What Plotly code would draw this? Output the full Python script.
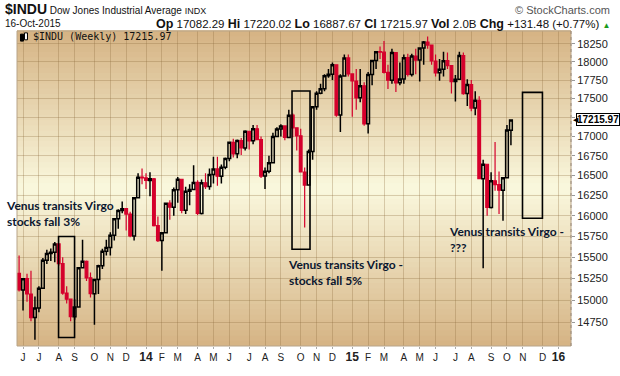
import plotly.graph_objects as go
import pandas as pd
import math

# ---------------- data (weekly $INDU, week starting Monday) ----------------
first_week = "2013-05-27"
opens = [
    15310, 15116, 15248, 15070, 14800, 14910, 15136, 15464, 15544, 15559, 15659, 15425, 15081, 15010, 14810, 14922,
    15376, 15452, 15258, 15073, 15237, 15399, 15570, 15616, 15762, 15962, 16064, 16086, 16020, 15755, 16221, 16479,
    16470, 16437, 16459, 15879, 15699, 15794, 16154, 16104, 16322, 16453, 16066, 16303, 16323, 16413, 16027, 16409,
    16361, 16513, 16583, 16492, 16606, 16717, 16924, 16776, 16948, 16851, 17068, 16944, 17100, 16960, 16493, 16553,
    16663, 17001, 17098, 17138, 16988, 17280, 17113, 17009, 16544, 16380, 16805, 17391, 17573, 17634, 17810, 17828,
    17958, 17281, 17805, 18053,
    17833, 17737, 17511, 17672, 17165, 17825, 18019, 18140, 18133, 17856, 17749, 18128, 17713, 17763, 18057, 17826,
    18080, 18024, 18191, 18273, 18232, 18011, 17849, 17899, 18015, 17947, 17730, 17760, 18086, 17568, 17690, 17373,
    17477, 16460, 16643, 16102, 16433, 16385, 16315, 16472, 17082,
]
highs = [
    15520, 15255, 15306, 15340, 15040, 15160, 15490, 15590, 15605, 15680, 15660, 15500, 15160, 15015, 15010, 15380,
    15710, 15460, 15320, 15240, 15410, 15600, 15710, 15800, 15970, 16080, 16175, 16090, 16050, 16230, 16530, 16588,
    16530, 16540, 16470, 15990, 15800, 16160, 16190, 16350, 16480, 16460, 16360, 16390, 16630, 16440, 16450, 16530,
    16590, 16740, 16740, 16640, 16730, 16930, 16970, 16960, 16980, 17080, 17070, 17150, 17150, 17000, 16600, 16750,
    17050, 17120, 17160, 17140, 17350, 17300, 17120, 17100, 16600, 16830, 17400, 17600, 17700, 17830, 17900, 17990,
    17960, 17830, 18100, 18100,
    17840, 17900, 17900, 17720, 17860, 18020, 18150, 18210, 18290, 17960, 18180, 18130, 17990, 18100, 18110, 18110,
    18180, 18200, 18290, 18350, 18240, 18100, 18040, 18140, 18130, 17950, 17820, 18140, 18130, 17760, 17750, 17600,
    17530, 16700, 16650, 16540, 16930, 16550, 16480, 17150, 17220,
]
lows = [
    15100, 14882, 14980, 14758, 14551, 14860, 15130, 15420, 15455, 15440, 15400, 15060, 14960, 14760, 14777, 14920,
    15370, 15220, 15030, 14720, 15070, 15360, 15520, 15520, 15700, 15840, 16030, 15820, 15740, 15700, 16220, 16390,
    16330, 16240, 15870, 15680, 15340, 15790, 15950, 16000, 16160, 16030, 16020, 16130, 16320, 16010, 16015, 16330,
    16320, 16400, 16370, 16400, 16580, 16680, 16730, 16720, 16760, 16820, 16830, 16900, 16950, 16470, 16330, 16530,
    16660, 16990, 17000, 16950, 16980, 16990, 16820, 16540, 15855, 16370, 16700, 17350, 17560, 17600, 17780, 17750,
    17260, 17060, 17800, 17800,
    17260, 17350, 17450, 17140, 17040, 17680, 17900, 18040, 17840, 17630, 17700, 17590, 17680, 17700, 17800, 17800,
    17830, 17730, 17960, 18180, 17960, 17800, 17740, 17800, 17900, 17570, 17460, 17750, 17550, 17400, 17330, 17280,
    16460, 15370, 16000, 16090, 16310, 16020, 15940, 16470, 16888,
]
closes = [
    15116, 15248, 15070, 14800, 14910, 15136, 15464, 15544, 15559, 15659, 15425, 15081, 15010, 14810, 14922, 15376,
    15452, 15258, 15073, 15237, 15399, 15570, 15616, 15762, 15962, 16064, 16086, 16020, 15755, 16221, 16479, 16470,
    16437, 16459, 15879, 15699, 15794, 16154, 16104, 16322, 16453, 16066, 16303, 16323, 16413, 16027, 16409, 16361,
    16513, 16583, 16492, 16606, 16717, 16924, 16776, 16948, 16851, 17068, 16944, 17100, 16960, 16493, 16553, 16663,
    17001, 17098, 17138, 16988, 17280, 17113, 17009, 16544, 16380, 16805, 17391, 17573, 17634, 17810, 17828, 17958,
    17281, 17805, 18053, 17833,
    17737, 17511, 17672, 17165, 17825, 18019, 18140, 18133, 17856, 17749, 18128, 17713, 17763, 18057, 17826, 18080,
    18024, 18191, 18273, 18232, 18011, 17849, 17899, 18015, 17947, 17730, 17760, 18086, 17568, 17690, 17373, 17477,
    16460, 16643, 16102, 16433, 16385, 16315, 16472, 17084, 17216,
]
weeks = pd.date_range(first_week, periods=len(closes), freq="W-MON")

y_ticks = [14750, 15000, 15250, 15500, 15750, 16000, 16250, 16500, 16750, 17000,
           17250, 17500, 17750, 18000, 18250]
y_tick_text = ["14750", "15000", "15250", "15500", "15750", "16000", "16250", "16500", "16750",
               "17000", "", "17500", "17750", "18000", "18250"]

# month ticks: first Monday of each month
month_starts = pd.date_range("2013-06-01", "2016-01-31", freq="MS")
month_letters = "JFMAMJJASOND"
x_ticks, x_tick_text = [], []
for m in month_starts:
    d = m + pd.Timedelta(days=(7 - m.weekday()) % 7)
    x_ticks.append(d)
    if m.month == 1:
        x_tick_text.append("<b><span style='font-size:12px'>%02d</span></b>" % (m.year % 100))
    else:
        x_tick_text.append(month_letters[m.month - 1])

last_price = 17215.97

# annotation boxes (date range, price range)
boxes = [
    ("2013-08-04 16:00", "2013-09-01 22:00", 14576, 15748),
    ("2014-09-20 16:00", "2014-10-22 10:00", 15595, 17603),
    ("2015-11-01 10:00", "2015-12-06 14:00", 15969, 17584),
]

RED = "#d5002c"
fig = go.Figure()
fig.add_trace(go.Candlestick(
    x=weeks, open=opens, high=highs, low=lows, close=closes,
    increasing=dict(line=dict(color="#000000", width=1.5), fillcolor="rgba(0,0,0,0)"),
    decreasing=dict(line=dict(color=RED, width=1.2), fillcolor=RED),
    whiskerwidth=0, showlegend=False, hoverinfo="skip",
))

# ---------- background gradient ----------
shapes = []
n = 60
tan = (213, 179, 131)
light = (250, 248, 222)
for i in range(n):
    y0, y1 = i / n, (i + 1) / n
    t = abs((y0 + y1) / 2 - 0.5) / 0.5
    c = tuple(int(round(light[k] + (tan[k] - light[k]) * t)) for k in range(3))
    shapes.append(dict(type="rect", xref="paper", yref="paper", x0=0, x1=1, y0=y0, y1=y1 + 0.002,
                       line=dict(width=0), fillcolor="rgb(%d,%d,%d)" % c, layer="below"))
# plot border
shapes.append(dict(type="rect", xref="paper", yref="paper", x0=0, x1=1, y0=0, y1=1,
                   line=dict(color="#b8a488", width=1), fillcolor="rgba(0,0,0,0)", layer="above"))
shapes.append(dict(type="line", xref="paper", yref="paper", x0=1, x1=1, y0=0, y1=1,
                   line=dict(color="#9a8a7a", width=1, dash="dot"), layer="above"))
for x0, x1, p0, p1 in boxes:
    shapes.append(dict(type="rect", xref="x", yref="y", x0=x0, x1=x1, y0=p0, y1=p1,
                       line=dict(color="#000000", width=1.6), fillcolor="rgba(0,0,0,0)", layer="above"))
# tiny chart-type icon in the title strip
shapes.append(dict(type="rect", xref="paper", yref="paper", x0=0.0063, x1=0.0117, y0=0.968, y1=0.99,
                   line=dict(color="#000", width=1), fillcolor="#000", layer="above"))
shapes.append(dict(type="rect", xref="paper", yref="paper", x0=0.0135, x1=0.0189, y0=0.972, y1=0.994,
                   line=dict(color="#000", width=1), fillcolor="#fff", layer="above"))


def px(x):
    return (x - 17) / 555


def py(y):
    return (359 - y) / 328


HDR = "Liberation Sans, Arial"
ann_font = dict(family="Lato, Open Sans, sans-serif", size=12, color="#0b1730")
B = "<b><span style='font-size:12.5px'>%s</span></b>"
annotations = [
    dict(xref="paper", yref="paper", x=px(3), y=py(8.5), xanchor="left", yanchor="middle", showarrow=False,
         text="<b><span style='font-size:14px'>$INDU</span></b> Dow Jones Industrial Average <span style='font-size:9px'>INDX</span>",
         font=dict(family=HDR, size=10, color="#111")),
    dict(xref="paper", yref="paper", x=px(3), y=py(23.5), xanchor="left", yanchor="middle",
         showarrow=False, text="16-Oct-2015", font=dict(family=HDR, size=10, color="#111")),
    dict(xref="paper", yref="paper", x=px(613), y=py(24), xanchor="right", yanchor="middle",
         showarrow=False,
         text=(B % "Op" + " 17082.29 " + B % "Hi" + " 17220.02 " + B % "Lo" + " 16887.67 " + B % "Cl"
               + " 17215.97 " + B % "Vol" + " 2.0B " + B % "Chg" + " +131.48 (+0.77%) "
               + "<span style='color:#1a9a1a;font-size:8px'>▲</span>"),
         font=dict(family=HDR, size=11.5, color="#111")),
    dict(xref="paper", yref="paper", x=px(613), y=py(9), xanchor="right", yanchor="middle",
         showarrow=False, text="© StockCharts.com", font=dict(family=HDR, size=11, color="#555")),
    dict(xref="paper", yref="paper", x=px(31), y=py(37), xanchor="left", yanchor="middle",
         showarrow=False, text="$INDU (Weekly) 17215.97",
         font=dict(family="DejaVu Sans Mono, monospace", size=10, color="#111")),
    dict(xref="paper", yref="paper", x=px(4), y=py(221.5), xanchor="left", yanchor="middle",
         showarrow=False, align="left",
         text="<b>Venus transits Virgo<br>stocks fall 3%</b>", font=ann_font),
    dict(xref="paper", yref="paper", x=px(286), y=py(282), xanchor="left", yanchor="middle",
         showarrow=False, align="left",
         text="<b>Venus transits Virgo -<br>stocks fall 5%</b>", font=ann_font),
    dict(xref="paper", yref="paper", x=px(448), y=py(248), xanchor="left", yanchor="middle",
         showarrow=False, align="left",
         text="<b>Venus transits Virgo -<br>???</b>", font=ann_font),
    dict(xref="paper", yref="y", x=1.0, y=math.log10(last_price), xanchor="left", yanchor="middle", xshift=5,
         showarrow=False, text="<b>%.2f</b>" % last_price, bgcolor="#ffffff", bordercolor="#000000",
         borderwidth=1, borderpad=0,
         font=dict(family="Liberation Sans, Arial", size=10, color="#000")),
    dict(xref="paper", yref="y", x=1.0, y=math.log10(last_price), xanchor="left", yanchor="middle", xshift=0,
         showarrow=False, text="◀", font=dict(family="DejaVu Sans", size=7, color="#000")),
]

fig.update_layout(
    width=620, height=376,
    margin=dict(l=17, r=48, t=31, b=17),
    paper_bgcolor="#ffffff", plot_bgcolor="rgba(0,0,0,0)",
    shapes=shapes, annotations=annotations, boxgap=0.02,
    xaxis=dict(
        type="date", range=["2013-05-23 08:00", "2016-01-26"],
        rangeslider=dict(visible=False),
        tickvals=x_ticks, ticktext=x_tick_text, tickangle=0,
        showgrid=True, gridcolor="rgba(140,105,60,0.30)", gridwidth=1,
        ticks="outside", ticklen=2, tickcolor="#aaa",
        tickfont=dict(family="Liberation Sans, Arial", size=10, color="#222"),
        zeroline=False, showline=False, fixedrange=True,
    ),
    yaxis=dict(
        type="log", side="right",
        range=[math.log10(14482), math.log10(18429)],
        tickvals=y_ticks, ticktext=y_tick_text,
        showgrid=True, gridcolor="rgba(140,105,60,0.30)", gridwidth=1,
        ticks="outside", ticklen=3, tickcolor="#999",
        tickfont=dict(family="Liberation Sans, Arial", size=11, color="#222"),
        zeroline=False, showline=False, fixedrange=True,
    ),
    font=dict(family="Liberation Sans, Arial"),
)

fig.write_html("out.html", config={"displayModeBar": False, "staticPlot": True},
               post_script="document.body.style.margin='0';")
